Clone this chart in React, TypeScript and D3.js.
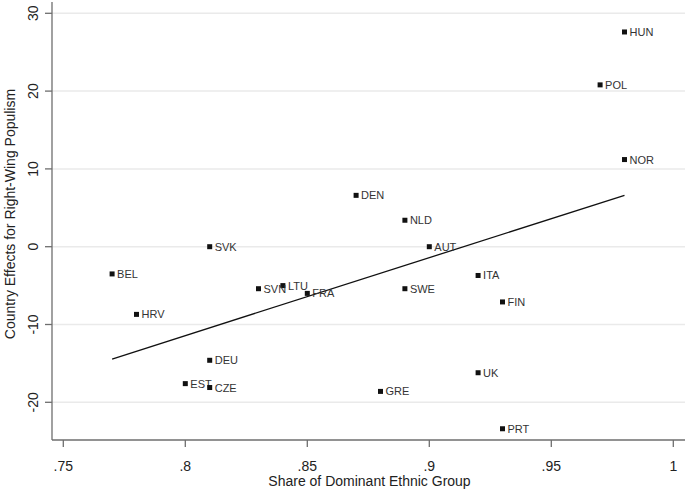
import React from "react";
import * as d3 from "d3";

const countries = ["HUN","POL","NOR","DEN","NLD","AUT","SVK","BEL","ITA","LTU","SVN","SWE","FRA","FIN","HRV","DEU","UK","EST","CZE","GRE","PRT"];
const ethnicShare = [0.98,0.97,0.98,0.87,0.89,0.90,0.81,0.77,0.92,0.84,0.83,0.89,0.85,0.93,0.78,0.81,0.92,0.80,0.81,0.88,0.93];
const countryEffect = [27.6,20.8,11.2,6.6,3.4,0.0,0.0,-3.5,-3.7,-5.0,-5.4,-5.4,-6.0,-7.1,-8.7,-14.6,-16.2,-17.6,-18.1,-18.6,-23.4];
const xTicks = [0.75,0.8,0.85,0.9,0.95,1];
const xTickLabels = [".75",".8",".85",".9",".95","1"];
const yTicks = [-20,-10,0,10,20,30];
const yTickLabels = ["-20","-10","0","10","20","30"];

export default function App() {
  const W = 685, H = 491;
  const left = 52, right = 685, top = 2, bottom = 440;
  const x = d3.scaleLinear().domain([0.75, 1]).range([63.3, 673.3]);
  const y = d3.scaleLinear().domain([0, -20]).range([246.7, 402.3]);
  const font = "'Liberation Sans', Arial, sans-serif";

  const mx = d3.mean(ethnicShare)!;
  const my = d3.mean(countryEffect)!;
  let sxy = 0, sxx = 0;
  ethnicShare.forEach((v, i) => { sxy += (v - mx) * (countryEffect[i] - my); sxx += (v - mx) ** 2; });
  const slope = sxy / sxx;
  const intercept = my - slope * mx;
  const [xmin, xmax] = d3.extent(ethnicShare) as [number, number];
  const fitLine = d3.line<number>().x(d => x(d)).y(d => y(intercept + slope * d));

  return (
    <svg width={W} height={H} style={{ position: "absolute", left: 0, top: 0, background: "#fff" }} fontFamily={font}>
      <rect x={0} y={0} width={W} height={H} fill="#fff" />
      {yTicks.map(t => (
        <line key={"g" + t} x1={left} x2={right} y1={y(t)} y2={y(t)} stroke="#eaeaea" strokeWidth={1.5} />
      ))}
      <line x1={left} x2={left} y1={top} y2={bottom} stroke="#6e6e6e" strokeWidth={1.3} />
      <line x1={left} x2={right} y1={bottom} y2={bottom} stroke="#6e6e6e" strokeWidth={1.3} />
      {yTicks.map((t, i) => (
        <g key={"y" + t}>
          <line x1={left - 7} x2={left} y1={y(t)} y2={y(t)} stroke="#6e6e6e" strokeWidth={1.3} />
          <text transform={`translate(38,${y(t)}) rotate(-90)`} textAnchor="middle" fontSize={14} fill="#222">{yTickLabels[i]}</text>
        </g>
      ))}
      {xTicks.map((t, i) => (
        <g key={"x" + t}>
          <line x1={x(t)} x2={x(t)} y1={bottom} y2={bottom + 7} stroke="#6e6e6e" strokeWidth={1.3} />
          <text x={x(t)} y={bottom + 31} textAnchor="middle" fontSize={14} fill="#222">{xTickLabels[i]}</text>
        </g>
      ))}
      <text x={(left + right) / 2 + 1} y={486} textAnchor="middle" fontSize={14} fill="#222">Share of Dominant Ethnic Group</text>
      <text transform={`translate(15,${(top + bottom) / 2 - 7}) rotate(-90)`} textAnchor="middle" fontSize={14} fill="#222">Country Effects for Right-Wing Populism</text>
      <path d={fitLine([xmin, xmax])!} fill="none" stroke="#111" strokeWidth={1.3} />
      {countries.map((c, i) => (
        <g key={c}>
          <rect x={x(ethnicShare[i]) - 2.5} y={y(countryEffect[i]) - 2.5} width={5} height={5} fill="#111" />
          <text x={x(ethnicShare[i]) + 5} y={y(countryEffect[i]) + 4} fontSize={11} fill="#333">{c}</text>
        </g>
      ))}
    </svg>
  );
}
